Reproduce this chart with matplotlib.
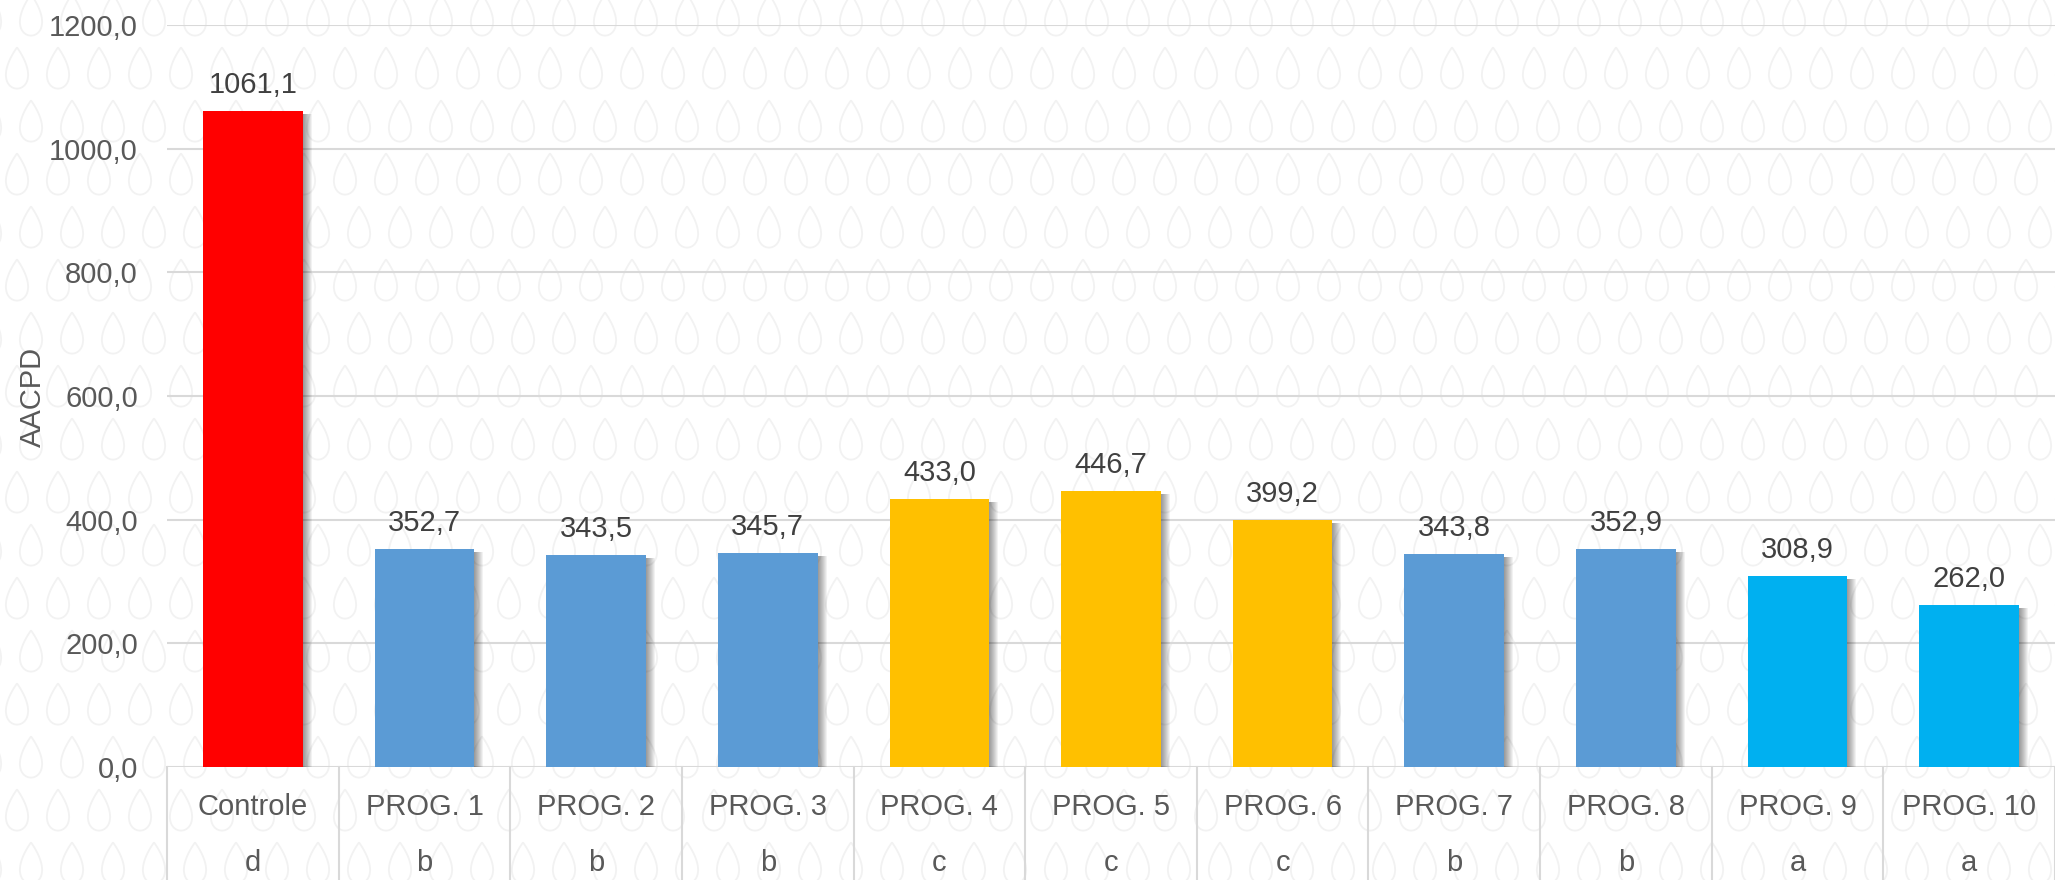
import matplotlib
matplotlib.use("Agg")
import matplotlib.pyplot as plt
import numpy as np
from matplotlib.path import Path

# dados do grafico
programas = ["Controle", "PROG. 1", "PROG. 2", "PROG. 3", "PROG. 4", "PROG. 5",
             "PROG. 6", "PROG. 7", "PROG. 8", "PROG. 9", "PROG. 10"]
aacpd = [1061.1, 352.7, 343.5, 345.7, 433.0, 446.7, 399.2, 343.8, 352.9, 308.9, 262.0]
letras = ["d", "b", "b", "b", "c", "c", "c", "b", "b", "a", "a"]

cor_letra = {"d": "#FF0000", "b": "#5B9BD5", "c": "#FFC000", "a": "#00B0F0"}
cores = [cor_letra[l] for l in letras]

plt.rcParams["font.family"] = ["Liberation Sans", "DejaVu Sans"]
FS = 21

W, H = 2055, 880
fig = plt.figure(figsize=(W / 100, H / 100), dpi=100)

# fundo com textura de gotas
bg = fig.add_axes([0, 0, 1, 1], zorder=-10)
bg.set_xlim(0, W)
bg.set_ylim(H, 0)
bg.axis("off")
t = np.linspace(0, 2 * np.pi, 60)
gota = Path(np.column_stack([0.7 * np.sin(t) * np.sin(t / 2), np.cos(t)]))
for i, yy in enumerate(np.arange(15, H + 40, 53)):
    xs = np.arange(-10 + (27 if i % 2 else 0), W + 40, 41)
    bg.scatter(xs, np.full(len(xs), yy), marker=gota, s=880, facecolors="none",
               edgecolors="#F2F2F2", linewidths=1.3)

ax = fig.add_axes([167 / W, (H - 767) / H, 1 - 167 / W, (767 - 25) / H])
ax.patch.set_alpha(0)
x = np.arange(len(programas))
ax.set_xlim(-0.5, len(programas) - 0.5)
ax.set_ylim(0, 1200)

# sombra das barras
px_x = 1 / 171.6
px_y = 1200 / 742
for k in range(1, 10):
    ax.bar(x + k * px_x, np.array(aacpd) - 3 * px_y, width=0.58, color="#000000",
           alpha=0.05, linewidth=0, zorder=1)

ax.bar(x, aacpd, width=0.58, color=cores, linewidth=0, zorder=2)

for xi, v in zip(x, aacpd):
    ax.annotate(f"{v:.1f}".replace(".", ","), (xi, v), xytext=(0, 13),
                textcoords="offset points", ha="center", va="baseline",
                fontsize=FS, color="#404040")

ax.set_yticks(np.arange(0, 1201, 200))
ax.set_yticklabels([f"{v:.1f}".replace(".", ",") for v in np.arange(0, 1201, 200)])
ax.tick_params(axis="y", length=0, pad=21, labelsize=FS, labelcolor="#595959")
ax.set_xticks([])
ax.grid(axis="y", color="#D9D9D9", linewidth=1.5, zorder=0)
ax.set_axisbelow(True)
for s in ax.spines.values():
    s.set_visible(False)

# tabela de categorias abaixo do eixo
tr = ax.get_xaxis_transform()
fundo = -(H - 767) / 742
for xb in np.arange(-0.5, len(programas), 1.0):
    ax.plot([xb, xb], [0, fundo], transform=tr, color="#D9D9D9", linewidth=1.5,
            clip_on=False)
for xi, p, l in zip(x, programas, letras):
    ax.text(xi, -40 / 742, p, transform=tr, ha="center", va="center",
            fontsize=FS, color="#595959")
    ax.text(xi, -96 / 742, l, transform=tr, ha="center", va="center",
            fontsize=FS, color="#595959")

fig.text(33 / W, (H - 397) / H, "AACPD", rotation=90, ha="center", va="center",
         fontsize=FS, color="#595959")

fig.savefig("out.png", dpi=100)
